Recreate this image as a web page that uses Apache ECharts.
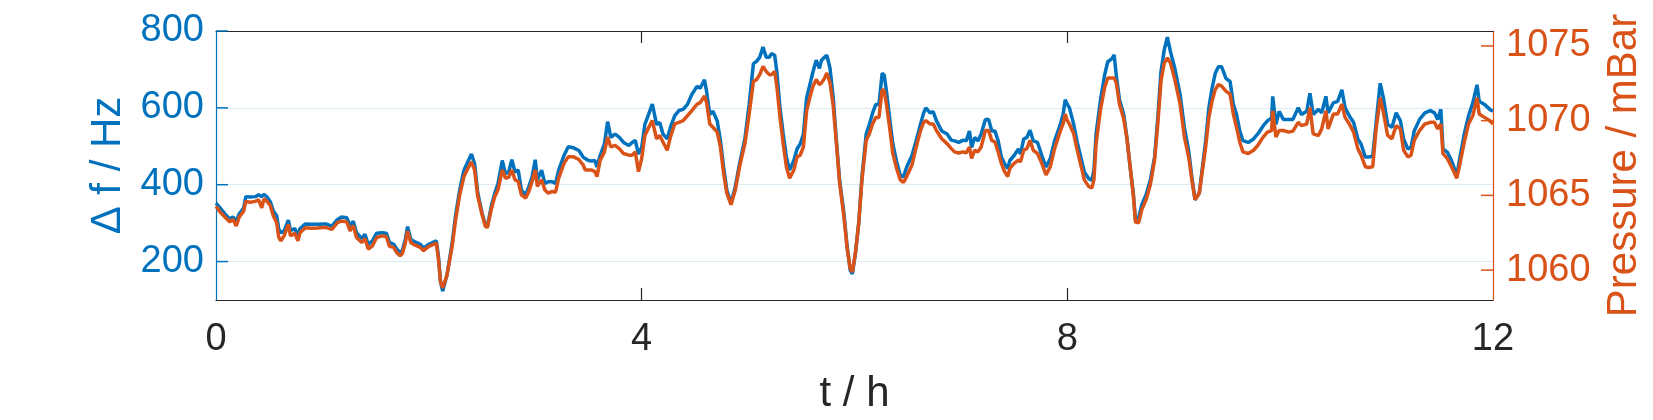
<!DOCTYPE html>
<html>
<head>
<meta charset="utf-8">
<script src="https://cdn.jsdelivr.net/npm/echarts@6/dist/echarts.min.js"></script>
<style>
  html, body { margin: 0; padding: 0; background: #fff; }
  #chart { width: 1653px; height: 420px; }
</style>
</head>
<body>
<div id="chart"></div>
<script>
// time in hours
const hours = [
  0, 0.04, 0.09, 0.13, 0.16, 0.19, 0.22, 0.26, 0.28, 0.32,
  0.37, 0.40, 0.43, 0.45, 0.48, 0.51, 0.54, 0.57, 0.59, 0.61,
  0.64, 0.68, 0.70, 0.74, 0.77, 0.79, 0.84, 0.89, 0.95, 1.03,
  1.09, 1.14, 1.18, 1.23, 1.26, 1.29, 1.32, 1.37, 1.40, 1.43,
  1.47, 1.51, 1.56, 1.60, 1.63, 1.67, 1.70, 1.73,
  1.75, 1.78, 1.80, 1.83, 1.87, 1.92, 1.95, 2.00, 2.07, 2.09,
  2.11, 2.13, 2.17, 2.22, 2.25, 2.29, 2.33, 2.36, 2.40, 2.43,
  2.46, 2.50, 2.53, 2.55, 2.59, 2.62, 2.65, 2.69, 2.72, 2.75,
  2.78, 2.81, 2.84, 2.87, 2.91, 2.94, 2.97, 3.00, 3.02, 3.06,
  3.09, 3.12, 3.16, 3.19, 3.22, 3.27, 3.31, 3.36, 3.41, 3.45,
  3.47, 3.50, 3.53, 3.56, 3.58, 3.61, 3.65, 3.68, 3.71, 3.75,
  3.79, 3.83, 3.88, 3.91, 3.94, 3.97, 4.00, 4.03, 4.06, 4.10,
  4.14, 4.17, 4.20, 4.24, 4.27, 4.31, 4.35, 4.39, 4.43, 4.47,
  4.52, 4.55, 4.59, 4.61, 4.64, 4.67, 4.71, 4.74, 4.77, 4.80,
  4.84, 4.88, 4.92, 4.97, 5.01, 5.05, 5.08, 5.11, 5.14, 5.17,
  5.20,
  5.22, 5.25, 5.27, 5.30, 5.33, 5.36, 5.39, 5.43, 5.46, 5.49,
  5.52, 5.55, 5.58, 5.61, 5.64, 5.67, 5.69, 5.72, 5.74, 5.77,
  5.80, 5.83, 5.86, 5.90, 5.93, 5.96, 5.98, 6.01, 6.04, 6.07,
  6.11, 6.14, 6.17, 6.20, 6.23, 6.26, 6.28, 6.30, 6.33, 6.36,
  6.40, 6.43, 6.46, 6.49, 6.54, 6.58, 6.62, 6.65, 6.67, 6.71,
  6.74, 6.77, 6.82, 6.87, 6.91,
  6.94, 6.98, 7.02, 7.05, 7.08, 7.10, 7.13, 7.16, 7.19, 7.23,
  7.26, 7.29, 7.32, 7.35, 7.38, 7.41, 7.44, 7.46, 7.50, 7.54,
  7.56, 7.59, 7.62, 7.65, 7.68, 7.72, 7.76, 7.80, 7.84, 7.88,
  7.93, 7.96, 7.98, 8.00, 8.02, 8.06, 8.09, 8.13, 8.16, 8.20,
  8.23, 8.25, 8.27, 8.31, 8.35, 8.38, 8.42, 8.44, 8.46, 8.49,
  8.53, 8.56, 8.59, 8.62, 8.64,
  8.67, 8.70, 8.74, 8.78, 8.82, 8.85, 8.88, 8.91, 8.94, 8.97,
  9.01, 9.06, 9.10, 9.14, 9.17, 9.20, 9.24, 9.27, 9.30, 9.33,
  9.36, 9.39, 9.42, 9.45, 9.49, 9.53, 9.56, 9.59, 9.62, 9.65,
  9.70, 9.75, 9.79, 9.84, 9.88, 9.92, 9.93, 9.96, 9.99, 10.03,
  10.08, 10.12, 10.17, 10.20, 10.25, 10.28, 10.31,
  10.36, 10.39, 10.43, 10.45, 10.50, 10.54, 10.58, 10.61, 10.65, 10.69,
  10.73, 10.76, 10.80, 10.83, 10.87, 10.90, 10.94, 10.97, 11.01, 11.05,
  11.09, 11.13, 11.16, 11.20, 11.23, 11.26, 11.31, 11.36, 11.41, 11.45,
  11.48, 11.51, 11.53, 11.57, 11.61, 11.66, 11.69, 11.73, 11.77, 11.81,
  11.85, 11.87, 11.92, 11.97, 12.00
];

// frequency shift in Hz (left axis)
const deltaF = [
  352, 339, 322, 311, 316, 305, 325, 339, 369, 368,
  369, 374, 369, 375, 368, 356, 331, 320, 284, 275,
  280, 308, 280, 286, 267, 286, 298, 297, 297, 298,
  292, 309, 316, 314, 292, 305, 275, 260, 271, 245,
  254, 274, 275, 274, 250, 245, 232, 224,
  228, 258, 291, 258, 251, 245, 235, 245, 254, 215,
  147, 123, 164, 250, 318, 386, 438, 456, 480, 455,
  378, 326, 297, 291, 348, 378, 403, 463, 429, 433,
  465, 433, 438, 386, 373, 395, 420, 465, 412, 438,
  403, 408, 408, 403, 438, 476, 499, 496, 489, 472,
  468, 463, 462, 463, 446, 476, 506, 564, 523, 532,
  523, 510, 502, 510, 515, 480, 497, 557, 579, 610,
  557, 562, 532, 519, 549, 579, 593, 596, 609, 634,
  656, 651, 673, 643, 583, 591, 566, 515, 446, 386,
  352, 395, 455, 519, 609, 715, 721, 732, 758, 732,
  732,
  741, 737, 694, 600, 532, 472, 438, 463, 493, 506,
  532, 626, 660, 694, 724, 703, 724, 732, 737, 703,
  626, 515, 412, 327, 241, 177, 168, 224, 301, 420,
  532, 557, 587, 609, 609, 690, 685, 643, 574, 506,
  455, 425, 420, 446, 476, 515, 557, 587, 600, 587,
  590, 566, 540, 532, 516,
  514, 510, 516, 514, 540, 497, 523, 514, 532, 570,
  570, 540, 540, 514, 472, 455, 442, 463, 476, 493,
  480, 519, 523, 542, 514, 510, 476, 446, 468, 514,
  553, 583, 621, 609, 600, 557, 514, 468, 433, 416,
  412, 438, 532, 617, 685, 720, 728, 738, 685, 621,
  583, 523, 446, 378, 309,
  314, 348, 374, 412, 472, 574, 694, 750, 784, 745,
  703, 634, 549, 489, 420, 361, 378, 446, 515, 600,
  651, 690, 707, 707, 677, 668, 609, 583, 540, 515,
  510, 519, 532, 553, 566, 574, 630, 557, 591, 570,
  570, 570, 600, 583, 591, 638, 583,
  596, 587, 630, 587, 613, 617, 647, 600, 579, 562,
  519, 506, 472, 472, 474, 557, 664, 626, 557, 549,
  587, 566, 519, 493, 497, 540, 570, 587, 593, 587,
  570, 596, 493, 485, 463, 425, 472, 532, 579, 613,
  660, 617, 609, 596, 591
];

// pressure in mBar (right axis)
const pressure = [
  1064.27, 1063.88, 1063.50, 1063.22, 1063.39, 1062.95, 1063.57, 1063.94, 1064.60, 1064.54,
  1064.60, 1064.71, 1064.16, 1064.76, 1064.60, 1064.32, 1063.61, 1063.17, 1062.18, 1061.96,
  1062.29, 1063.06, 1062.29, 1062.47, 1061.96, 1062.51, 1062.84, 1062.80, 1062.82, 1062.86,
  1062.73, 1063.17, 1063.28, 1063.22, 1062.62, 1062.99, 1062.18, 1061.85, 1062.11, 1061.41,
  1061.63, 1062.18, 1062.29, 1062.25, 1061.59, 1061.52, 1061.15, 1060.97,
  1061.08, 1061.85, 1062.62, 1061.85, 1061.67, 1061.52, 1061.30, 1061.59, 1061.81, 1060.75,
  1059.21, 1058.81, 1059.65, 1061.63, 1063.28, 1065.04, 1066.26, 1066.70, 1067.25, 1066.70,
  1064.93, 1063.72, 1062.95, 1062.84, 1064.16, 1064.93, 1065.37, 1066.70, 1066.15, 1066.21,
  1066.70, 1066.04, 1065.93, 1065.04, 1064.82, 1065.26, 1065.93, 1066.70, 1065.60, 1066.04,
  1065.37, 1065.15, 1065.26, 1065.20, 1066.15, 1067.14, 1067.58, 1067.58, 1067.40, 1067.03,
  1066.70, 1066.70, 1066.70, 1066.59, 1066.26, 1067.36, 1067.91, 1068.90, 1068.24, 1068.35,
  1068.13, 1067.80, 1067.69, 1067.69, 1067.91, 1066.59, 1067.47, 1069.01, 1069.45, 1070.00,
  1068.79, 1069.01, 1068.57, 1068.02, 1068.90, 1069.78, 1069.89, 1070.00, 1070.33, 1070.66,
  1071.10, 1071.21, 1071.65, 1071.21, 1069.78, 1069.56, 1069.23, 1068.24, 1066.48, 1065.15,
  1064.38, 1065.37, 1066.92, 1068.46, 1070.44, 1072.64, 1072.75, 1073.08, 1073.63, 1073.30,
  1073.08,
  1073.08, 1073.30, 1072.31, 1070.22, 1068.46, 1066.92, 1066.15, 1066.70, 1067.58, 1067.69,
  1068.24, 1070.66, 1071.54, 1072.31, 1072.75, 1072.42, 1072.53, 1072.86, 1073.19, 1072.53,
  1070.99, 1068.46, 1065.82, 1063.61, 1061.52, 1060.09, 1059.87, 1061.19, 1063.17, 1066.04,
  1068.68, 1069.12, 1069.78, 1070.22, 1070.22, 1072.09, 1071.98, 1071.10, 1069.56, 1067.80,
  1066.70, 1066.04, 1065.86, 1066.26, 1067.03, 1068.24, 1069.34, 1069.89, 1070.00, 1069.78,
  1069.78, 1069.34, 1068.79, 1068.46, 1068.13,
  1067.91, 1067.84, 1067.91, 1067.84, 1068.24, 1067.47, 1068.02, 1067.91, 1068.24, 1069.34,
  1069.34, 1068.68, 1068.57, 1067.91, 1067.14, 1066.59, 1066.26, 1066.81, 1067.14, 1067.36,
  1067.25, 1068.02, 1068.13, 1068.68, 1068.02, 1067.80, 1067.14, 1066.37, 1066.92, 1068.13,
  1069.23, 1069.78, 1070.44, 1070.00, 1069.78, 1069.12, 1068.13, 1066.92, 1066.04, 1065.60,
  1065.49, 1066.04, 1068.46, 1070.66, 1072.20, 1072.86, 1072.86, 1072.86, 1072.53, 1071.10,
  1070.11, 1068.79, 1066.92, 1065.04, 1063.22,
  1063.17, 1064.05, 1064.71, 1065.71, 1067.36, 1069.78, 1072.64, 1073.85, 1074.19, 1073.85,
  1072.75, 1071.10, 1068.90, 1067.58, 1066.04, 1064.71, 1065.15, 1066.70, 1068.24, 1070.22,
  1071.32, 1072.09, 1072.42, 1072.31, 1071.98, 1071.76, 1070.44, 1069.56, 1068.57, 1067.91,
  1067.80, 1068.02, 1068.35, 1068.90, 1069.23, 1069.34, 1070.66, 1068.90, 1069.34, 1069.34,
  1069.23, 1069.30, 1069.89, 1069.67, 1069.78, 1070.88, 1069.12,
  1069.01, 1069.45, 1070.66, 1069.45, 1070.44, 1070.44, 1071.10, 1070.22, 1069.78, 1069.23,
  1068.13, 1067.69, 1066.92, 1066.87, 1066.92, 1069.34, 1071.54, 1070.55, 1069.01, 1068.79,
  1069.67, 1069.45, 1068.02, 1067.58, 1067.69, 1068.68, 1069.34, 1069.78, 1069.89, 1069.89,
  1069.45, 1069.78, 1067.80, 1067.47, 1066.92, 1066.15, 1067.14, 1068.57, 1069.78, 1070.33,
  1071.54, 1070.44, 1070.22, 1070.00, 1069.78
];

const xTicks = [0, 4, 8, 12];
const fTicks = [200, 400, 600, 800];
const pTicks = [1060, 1065, 1070, 1075];

if (hours.length !== deltaF.length || hours.length !== pressure.length) {
  throw new Error('length mismatch ' + hours.length + ' ' + deltaF.length + ' ' + pressure.length);
}

const BLUE = '#0072BD';
const ORANGE = '#D95319';
const INK = '#262626';
const FONT = '"Liberation Sans", Arial, Helvetica, sans-serif';
const TICK_LEN = 12;

const chart = echarts.init(document.getElementById('chart'));

chart.setOption({
  animation: false,
  backgroundColor: '#fff',
  textStyle: { fontFamily: FONT },
  grid: { left: 216, right: 160, top: 31, bottom: 118 },
  xAxis: [
    {
      type: 'value',
      position: 'bottom',
      min: 0,
      max: 12,
      interval: 4,
      name: 't / h',
      nameLocation: 'middle',
      nameGap: 73,
      nameTextStyle: { fontSize: 42, color: INK, fontFamily: FONT },
      axisLine: { show: true, onZero: false, lineStyle: { color: INK, width: 1.2 } },
      axisTick: { show: true, inside: true, length: TICK_LEN, customValues: [4, 8], lineStyle: { color: INK, width: 1.2 } },
      axisLabel: { fontSize: 38, color: INK, margin: 21, fontFamily: FONT, customValues: xTicks },
      splitLine: { show: true, showMinLine: false, showMaxLine: false, lineStyle: { color: '#DEDEDE', width: 1 } }
    },
    {
      type: 'value',
      position: 'top',
      min: 0,
      max: 12,
      interval: 4,
      axisLine: { show: true, onZero: false, lineStyle: { color: INK, width: 1.2 } },
      axisTick: { show: true, inside: true, length: TICK_LEN, customValues: [4, 8], lineStyle: { color: INK, width: 1.2 } },
      axisLabel: { show: false },
      splitLine: { show: false }
    }
  ],
  yAxis: [
    {
      type: 'value',
      position: 'left',
      min: 100,
      max: 800,
      minInterval: 200,
      maxInterval: 200,
      name: 'Δ f / Hz',
      nameLocation: 'middle',
      nameGap: 81,
      nameTextStyle: { fontSize: 42, color: BLUE, fontFamily: FONT },
      axisLine: { show: true, onZero: false, lineStyle: { color: BLUE, width: 1.2 } },
      axisTick: { show: false },
      axisLabel: { fontSize: 38, color: BLUE, margin: 12, fontFamily: FONT, customValues: fTicks },
      splitLine: { show: true, showMinLine: false, showMaxLine: false, lineStyle: { color: '#D9EAF5', width: 1 } }
    },
    {
      type: 'value',
      position: 'right',
      min: 1058,
      max: 1076,
      minInterval: 5,
      maxInterval: 5,
      name: 'Pressure / mBar',
      nameLocation: 'middle',
      nameGap: 110,
      nameTextStyle: { fontSize: 42, color: ORANGE, fontFamily: FONT },
      axisLine: { show: true, onZero: false, lineStyle: { color: ORANGE, width: 1.2 } },
      axisTick: { show: false },
      axisLabel: {
        fontSize: 38, color: ORANGE, margin: 13, fontFamily: FONT, customValues: pTicks,
        formatter: (v) => String(v)
      },
      splitLine: { show: false }
    }
  ],
  series: [
    {
      name: 'Δf',
      type: 'line',
      xAxisIndex: 0,
      yAxisIndex: 0,
      showSymbol: false,
      data: hours.map((t, i) => [t, deltaF[i]]),
      lineStyle: { color: BLUE, width: 3.5 },
      itemStyle: { color: BLUE }
    },
    {
      name: 'Pressure',
      type: 'line',
      xAxisIndex: 0,
      yAxisIndex: 1,
      showSymbol: false,
      data: hours.map((t, i) => [t, pressure[i]]),
      lineStyle: { color: ORANGE, width: 3.5 },
      itemStyle: { color: ORANGE }
    }
  ]
});

// inward y ticks (MATLAB style), placed through the axis scales
const xLeft = chart.convertToPixel({ xAxisIndex: 0 }, 0);
const xRight = chart.convertToPixel({ xAxisIndex: 0 }, 12);
const tickLines = [];
fTicks.forEach(v => {
  const y = chart.convertToPixel({ yAxisIndex: 0 }, v);
  tickLines.push({
    type: 'line', z: 100, silent: true,
    shape: { x1: xLeft, y1: y, x2: xLeft + TICK_LEN, y2: y },
    style: { stroke: BLUE, lineWidth: 1.5 }
  });
});
pTicks.forEach(v => {
  const y = chart.convertToPixel({ yAxisIndex: 1 }, v);
  tickLines.push({
    type: 'line', z: 1, silent: true,
    shape: { x1: xRight - TICK_LEN, y1: y, x2: xRight, y2: y },
    style: { stroke: ORANGE, lineWidth: 1.5 }
  });
});
chart.setOption({ graphic: tickLines });
</script>
</body>
</html>
